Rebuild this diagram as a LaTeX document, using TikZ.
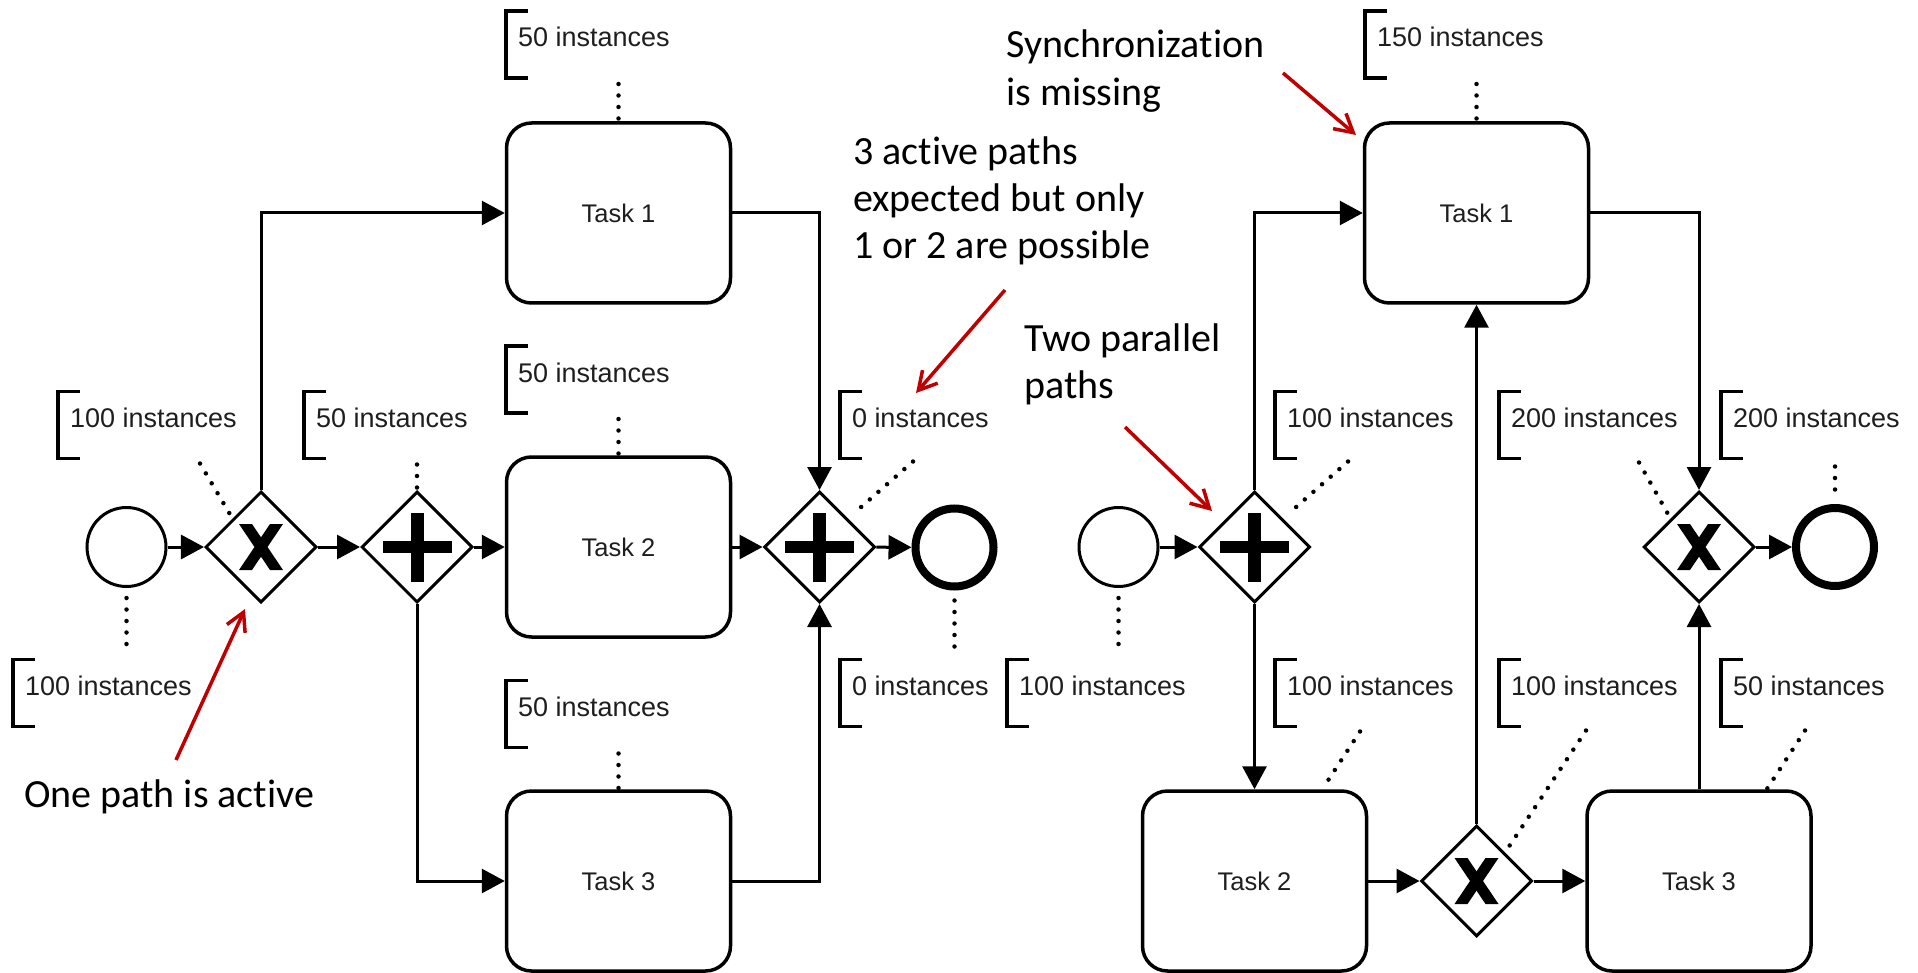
\documentclass[tikz,border=0pt]{standalone}
\usepackage{fontspec}
\setmainfont{Liberation Sans}
\newfontfamily\calloutfont[Ligatures=NoCommon]{Carlito}
\usetikzlibrary{shapes.geometric,arrows.meta,calc}
\definecolor{callred}{RGB}{192,0,0}
\definecolor{ink}{RGB}{30,30,30}

\begin{document}
\begin{tikzpicture}[x=1pt,y=-1pt,
  task/.style={draw, rectangle, rounded corners=25pt, line width=3.5pt,
    minimum width=224pt, minimum height=180pt, inner sep=0pt,
    font=\fontsize{25.5}{30}\selectfont, text=ink},
  gateway/.style={draw, diamond, line width=3pt, minimum width=111pt,
    minimum height=111pt, inner sep=0pt},
  xorgate/.style={gateway, path picture={
    \fill ([shift={(-22pt,23pt)}]path picture bounding box.center)
      -- ++(13pt,0pt) -- ++(31pt,-46pt) -- ++(-13pt,0pt) -- cycle;
    \fill ([shift={(9pt,23pt)}]path picture bounding box.center)
      -- ++(13pt,0pt) -- ++(-31pt,-46pt) -- ++(-13pt,0pt) -- cycle;}},
  andgate/.style={gateway, path picture={
    \fill ([shift={(-34.5pt,-6pt)}]path picture bounding box.center)
      rectangle ++(69pt,12pt);
    \fill ([shift={(-6.5pt,-34.5pt)}]path picture bounding box.center)
      rectangle ++(13pt,69pt);}},
  startev/.style={draw, circle, line width=3pt, minimum size=79pt, inner sep=0pt},
  endev/.style={draw, circle, line width=8pt, minimum size=78pt, inner sep=0pt},
  flow/.style={line width=3pt, -{Triangle[length=23pt,width=24pt]}},
  annotation/.style={anchor=west, inner xsep=12pt, inner ysep=0pt, outer sep=0pt,
    minimum height=67pt, text height=19pt, text depth=14pt,
    font=\fontsize{27}{31}\selectfont, text=ink},
  bracket/.style={line width=3.5pt},
  assoc/.style={line width=4.5pt, line cap=round, dash pattern=on 0pt off 11.5pt},
  callout/.style={anchor=base west, inner sep=0pt,
    font=\calloutfont\fontsize{40}{47}\selectfont},
  hint/.style={draw=callred, line width=3.5pt,
    -{Straight Barb[length=18pt,width=20pt]}}
]
\useasboundingbox (0,0) rectangle (1918,973);

% ---------- left process: exclusive split, parallel join ----------
\node[startev] (s1) at (126.5,547) {};
\node[xorgate] (x1) at (261,547) {};
\node[andgate] (a1) at (417,547) {};
\node[task] (t1) at (618.5,213) {Task 1};
\node[task] (t2) at (618.5,547) {Task 2};
\node[task] (t3) at (618.5,881) {Task 3};
\node[andgate] (a2) at (819.5,547) {};
\node[endev] (e1) at (954.5,547.5) {};

\draw[flow] (s1) -- (x1);
\draw[flow] (x1.north) |- (t1.west);
\draw[flow] (x1) -- (a1);
\draw[flow] (a1) -- (t2);
\draw[flow] (a1.south) |- (t3.west);
\draw[flow] (t1.east) -| (a2.north);
\draw[flow] (t2) -- (a2);
\draw[flow] (t3.east) -| (a2.south);
\draw[flow] (a2) -- (e1);

% ---------- right process: parallel split, exclusive join ----------
\node[startev] (s2) at (1118.5,547) {};
\node[andgate] (a3) at (1254.5,547) {};
\node[task] (t4) at (1476.5,213) {Task 1};
\node[task] (t5) at (1254.5,881) {Task 2};
\node[xorgate] (x3) at (1476.5,881) {};
\node[task] (t6) at (1699,881) {Task 3};
\node[xorgate] (x2) at (1699,547) {};
\node[endev] (e2) at (1835,547) {};

\draw[flow] (s2) -- (a3);
\draw[flow] (a3.north) |- (t4.west);
\draw[flow] (a3.south) -- (t5.north);
\draw[flow] (t5) -- (x3);
\draw[flow] (x3) -- (t6);
\draw[flow] (x3.north) -- (t4.south);
\draw[flow] (t4.east) -| (x2.north);
\draw[flow] (t6.north) -- (x2.south);
\draw[flow] (x2) -- (e2);

% ---------- instance count annotations ----------
\node[annotation] (n1) at (506,44.5) {50 instances};
\node[annotation] (n2) at (506,379.5) {50 instances};
\node[annotation] (n3) at (506,714) {50 instances};
\node[annotation] (n4) at (58,425) {100 instances};
\node[annotation] (n5) at (13,693) {100 instances};
\node[annotation] (n6) at (304,425) {50 instances};
\node[annotation] (n7) at (840,425) {0 instances};
\node[annotation] (n8) at (840,693) {0 instances};
\node[annotation] (m1) at (1365,44.5) {150 instances};
\node[annotation] (m2) at (1275,425) {100 instances};
\node[annotation] (m3) at (1007,693) {100 instances};
\node[annotation] (m4) at (1275,693) {100 instances};
\node[annotation] (m5) at (1499,425) {200 instances};
\node[annotation] (m6) at (1721,425) {200 instances};
\node[annotation] (m7) at (1499,693) {100 instances};
\node[annotation] (m8) at (1721,693) {50 instances};

\foreach \n in {n1,n2,n3,n4,n5,n6,n7,n8,m1,m2,m3,m4,m5,m6,m7,m8}
  \draw[bracket] ([xshift=22pt]\n.north west) -- (\n.north west)
    -- (\n.south west) -- ([xshift=22pt]\n.south west);

% associations
\draw[assoc] ([yshift=-6pt]t1.north |- n1.south) -- (t1.north);
\draw[assoc] ([yshift=-6pt]t2.north |- n2.south) -- (t2.north);
\draw[assoc] ([yshift=-6pt]t3.north |- n3.south) -- (t3.north);
\draw[assoc, shorten >=6pt] ([xshift=142pt,yshift=-5pt]n4.south west) -- (x1.north west);
\draw[assoc, shorten <=10pt, shorten >=7pt] (s1.south) -- (s1.south |- n5.north);
\draw[assoc] ([yshift=-6pt]a1.north |- n6.south) -- (a1.north);
\draw[assoc, shorten >=6pt] ([xshift=73pt,yshift=-3pt]n7.south west) -- (a2.north east);
\draw[assoc, shorten <=10pt, shorten >=7pt] (e1.south) -- (e1.south |- n8.north);
\draw[assoc] ([yshift=-6pt]t4.north |- m1.south) -- (t4.north);
\draw[assoc, shorten >=6pt] ([xshift=73pt,yshift=-3pt]m2.south west) -- (a3.north east);
\draw[assoc, shorten <=10pt, shorten >=7pt] (s2.south) -- (s2.south |- m3.north);
\draw[assoc] ([xshift=85pt,yshift=-5pt]m4.south west) -- ([xshift=-46pt]t5.north east);
\draw[assoc, shorten >=6pt] ([xshift=140pt,yshift=-4pt]m5.south west) -- (x2.north west);
\draw[assoc, shorten >=5pt] ([yshift=-8pt]e2.north |- m6.south) -- (e2.north);
\draw[assoc, shorten >=6pt] ([xshift=87pt,yshift=-4pt]m7.south west) -- (x3.north east);
\draw[assoc] ([xshift=84pt,yshift=-4pt]m8.south west) -- ([xshift=-46pt]t6.north east);

% ---------- callouts ----------
\node[callout] (c1) at (24,807) {One path is active};
\node[callout] (c2) at (853,165)
  {\begin{tabular}[t]{@{}l@{}}3 active paths\\expected but only\\1 or 2 are possible\end{tabular}};
\node[callout, font=\calloutfont\fontsize{40}{48}\selectfont] (c3) at (1006,58)
  {\begin{tabular}[t]{@{}l@{}}Synchronization\\is missing\end{tabular}};
\node[callout] (c4) at (1024,352)
  {\begin{tabular}[t]{@{}l@{}}Two parallel\\paths\end{tabular}};

\coordinate (h1a) at (176,760);  \coordinate (h1b) at (245,609);
\coordinate (h2a) at (1005,290); \coordinate (h2b) at (916,393);
\coordinate (h3a) at (1283,73);  \coordinate (h3b) at (1356,135);
\coordinate (h4a) at (1125,427); \coordinate (h4b) at (1212,511);
\draw[hint] (h1a) -- (h1b);
\draw[hint] (h2a) -- (h2b);
\draw[hint] (h3a) -- (h3b);
\draw[hint] (h4a) -- (h4b);
\end{tikzpicture}
\end{document}
